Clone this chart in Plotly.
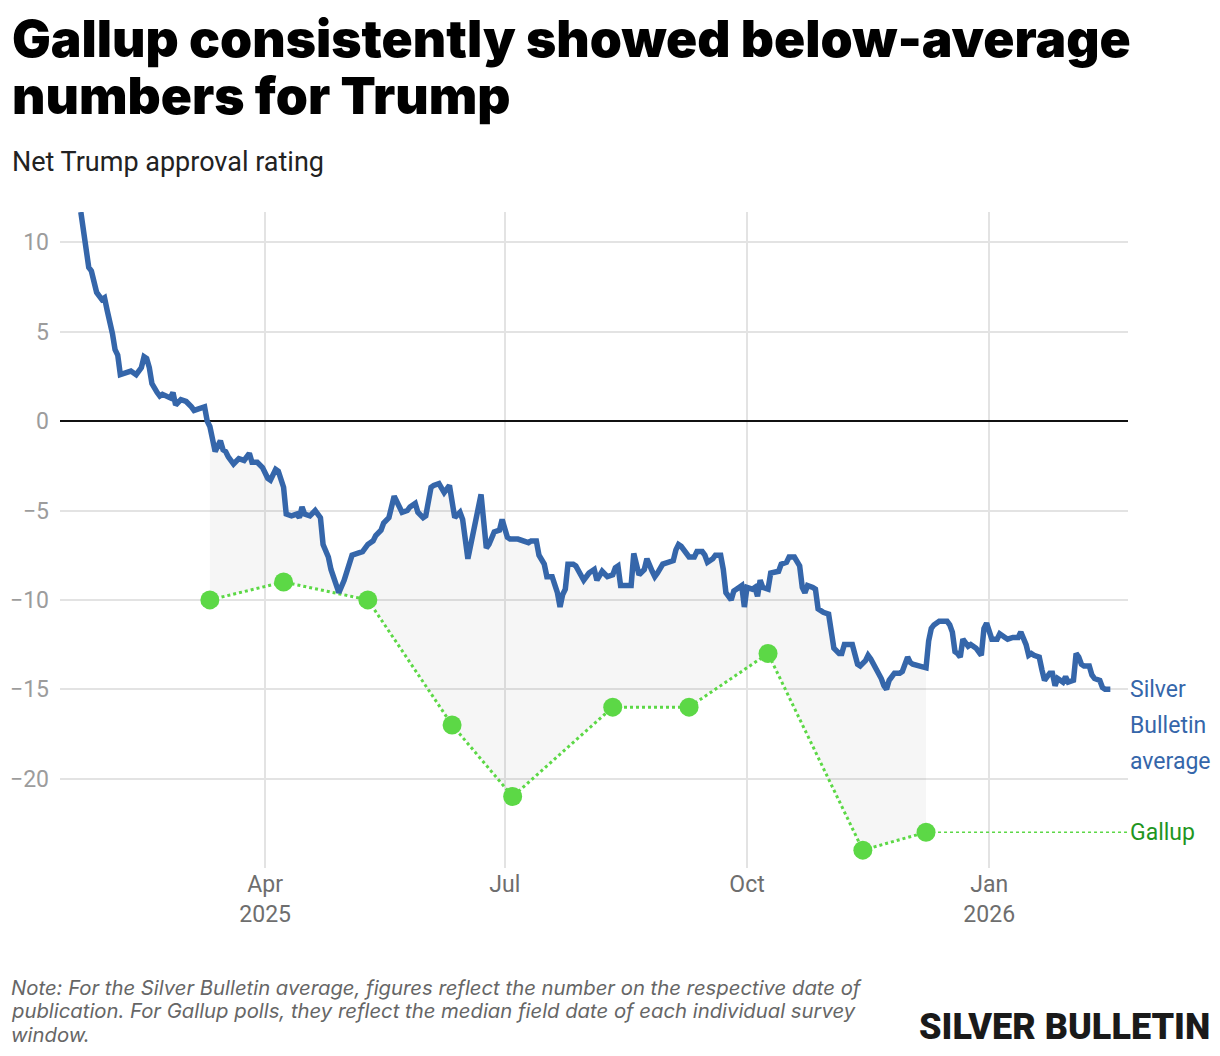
import plotly.graph_objects as go

# ---------------- data ----------------
avg_dates = [
    "2025-01-21", "2025-01-23", "2025-01-24", "2025-01-25", "2025-01-27", "2025-01-29", "2025-01-30", "2025-01-31",
    "2025-02-01", "2025-02-02", "2025-02-03", "2025-02-04", "2025-02-05", "2025-02-07", "2025-02-09", "2025-02-11",
    "2025-02-13", "2025-02-14", "2025-02-15", "2025-02-16", "2025-02-17", "2025-02-19", "2025-02-20", "2025-02-21",
    "2025-02-23", "2025-02-24", "2025-02-25", "2025-02-26", "2025-02-28", "2025-03-02", "2025-03-04", "2025-03-05",
    "2025-03-07", "2025-03-09", "2025-03-10", "2025-03-11", "2025-03-13", "2025-03-15", "2025-03-16", "2025-03-17",
    "2025-03-18", "2025-03-20", "2025-03-22", "2025-03-24", "2025-03-26", "2025-03-27", "2025-03-29", "2025-03-31",
    "2025-04-02", "2025-04-03", "2025-04-05", "2025-04-06", "2025-04-08", "2025-04-09", "2025-04-11", "2025-04-13",
    "2025-04-14", "2025-04-15", "2025-04-16", "2025-04-18", "2025-04-20", "2025-04-22", "2025-04-23", "2025-04-25",
    "2025-04-26", "2025-04-28", "2025-04-29", "2025-05-01", "2025-05-03", "2025-05-04", "2025-05-06", "2025-05-08",
    "2025-05-10", "2025-05-12", "2025-05-13", "2025-05-15", "2025-05-16", "2025-05-18", "2025-05-20", "2025-05-22",
    "2025-05-23", "2025-05-25", "2025-05-26", "2025-05-28", "2025-05-29", "2025-05-31", "2025-06-01", "2025-06-03",
    "2025-06-04", "2025-06-06", "2025-06-08", "2025-06-10", "2025-06-11", "2025-06-12", "2025-06-14", "2025-06-15",
    "2025-06-17", "2025-06-19", "2025-06-20", "2025-06-22", "2025-06-23", "2025-06-24", "2025-06-25", "2025-06-27",
    "2025-06-29", "2025-06-30", "2025-07-02", "2025-07-03", "2025-07-06", "2025-07-08", "2025-07-10", "2025-07-11",
    "2025-07-13", "2025-07-14", "2025-07-16", "2025-07-17", "2025-07-19", "2025-07-21", "2025-07-22", "2025-07-23",
    "2025-07-24", "2025-07-25", "2025-07-27", "2025-07-28", "2025-07-30", "2025-07-31", "2025-08-02", "2025-08-04",
    "2025-08-05", "2025-08-07", "2025-08-09", "2025-08-11", "2025-08-12", "2025-08-13", "2025-08-14", "2025-08-18",
    "2025-08-19", "2025-08-20", "2025-08-21", "2025-08-23", "2025-08-24", "2025-08-26", "2025-08-27", "2025-08-28",
    "2025-08-30", "2025-09-01", "2025-09-03", "2025-09-04", "2025-09-05", "2025-09-06", "2025-09-08", "2025-09-09",
    "2025-09-11", "2025-09-12", "2025-09-14", "2025-09-15", "2025-09-16", "2025-09-18", "2025-09-19", "2025-09-21",
    "2025-09-22", "2025-09-23", "2025-09-25", "2025-09-26", "2025-09-27", "2025-09-29", "2025-09-30", "2025-10-01",
    "2025-10-03", "2025-10-04", "2025-10-05", "2025-10-06", "2025-10-07", "2025-10-09", "2025-10-10", "2025-10-12",
    "2025-10-13", "2025-10-14", "2025-10-16", "2025-10-17", "2025-10-19", "2025-10-21", "2025-10-22", "2025-10-23",
    "2025-10-24", "2025-10-26", "2025-10-27", "2025-10-28", "2025-10-30", "2025-11-01", "2025-11-03", "2025-11-05",
    "2025-11-06", "2025-11-07", "2025-11-10", "2025-11-12", "2025-11-13", "2025-11-15", "2025-11-16", "2025-11-17",
    "2025-11-19", "2025-11-21", "2025-11-22", "2025-11-23", "2025-11-24", "2025-11-25", "2025-11-26", "2025-11-28",
    "2025-11-29", "2025-12-01", "2025-12-02", "2025-12-03", "2025-12-05", "2025-12-08", "2025-12-09", "2025-12-10",
    "2025-12-11", "2025-12-13", "2025-12-16", "2025-12-17", "2025-12-18", "2025-12-19", "2025-12-20", "2025-12-21",
    "2025-12-22", "2025-12-24", "2025-12-25", "2025-12-27", "2025-12-29", "2025-12-30", "2025-12-31", "2026-01-01",
    "2026-01-02", "2026-01-04", "2026-01-05", "2026-01-07", "2026-01-08", "2026-01-10", "2026-01-12", "2026-01-13",
    "2026-01-14", "2026-01-15", "2026-01-16", "2026-01-17", "2026-01-18", "2026-01-20", "2026-01-21", "2026-01-22",
    "2026-01-24", "2026-01-25", "2026-01-26", "2026-01-27", "2026-01-29", "2026-01-30", "2026-01-31", "2026-02-02",
    "2026-02-03", "2026-02-04", "2026-02-05", "2026-02-06", "2026-02-08", "2026-02-09", "2026-02-10", "2026-02-12",
    "2026-02-13", "2026-02-14", "2026-02-16",
]
avg_values = [
    11.7, 9.4, 8.6, 8.4, 7.2, 6.8, 6.9, 6.2,
    5.6, 4.9, 4.0, 3.7, 2.6, 2.7, 2.8, 2.6,
    3.0, 3.6, 3.5, 3.0, 2.1, 1.6, 1.4, 1.5,
    1.4, 1.3, 1.6, 0.9, 1.2, 1.1, 0.8, 0.6,
    0.7, 0.8, 0.0, -0.3, -1.7, -1.1, -1.6, -1.7,
    -2.0, -2.4, -2.1, -2.2, -1.8, -2.3, -2.3, -2.6,
    -3.2, -3.3, -2.7, -2.8, -3.7, -5.2, -5.3, -5.2,
    -5.4, -4.8, -5.2, -5.3, -5.0, -5.4, -6.9, -7.6,
    -8.3, -9.3, -9.6, -8.9, -7.8, -7.5, -7.4, -7.3,
    -6.9, -6.7, -6.4, -6.1, -5.7, -5.4, -4.2, -4.9,
    -5.1, -5.0, -4.8, -4.6, -5.1, -5.4, -5.3, -3.7,
    -3.6, -3.5, -4.0, -3.6, -4.4, -5.4, -5.1, -5.5,
    -7.7, -6.3, -5.5, -4.1, -5.6, -7.1, -6.9, -6.2,
    -6.1, -5.5, -6.5, -6.6, -6.6, -6.7, -6.8, -6.7,
    -6.7, -7.5, -8.0, -8.7, -8.7, -9.6, -10.4, -9.7,
    -9.4, -8.0, -8.0, -8.1, -8.6, -8.9, -8.5, -8.3,
    -8.9, -8.4, -8.7, -8.6, -8.2, -8.1, -9.2, -9.2,
    -7.4, -8.0, -8.6, -8.3, -7.7, -8.4, -8.7, -8.5,
    -8.0, -7.9, -7.8, -7.2, -6.9, -7.0, -7.4, -7.6,
    -7.6, -7.3, -7.3, -7.5, -7.9, -7.7, -7.5, -7.5,
    -8.3, -9.6, -10.0, -9.5, -9.4, -9.2, -10.4, -9.3,
    -9.4, -9.3, -9.8, -8.9, -9.3, -9.4, -8.5, -8.4,
    -8.4, -8.0, -7.9, -7.6, -7.6, -8.1, -9.3, -9.6,
    -9.2, -9.3, -9.4, -10.5, -10.7, -10.8, -12.7, -13.0,
    -13.0, -12.5, -12.5, -13.6, -13.7, -13.4, -13.1, -13.3,
    -13.8, -14.4, -14.8, -15.0, -14.5, -14.3, -14.1, -14.1,
    -14.0, -13.2, -13.5, -13.6, -13.7, -13.8, -12.3, -11.6,
    -11.4, -11.2, -11.2, -11.4, -11.8, -12.9, -13.0, -13.2,
    -12.2, -12.6, -12.5, -12.7, -13.1, -11.6, -11.3, -11.8,
    -12.2, -12.2, -11.9, -12.1, -12.2, -12.1, -12.1, -11.8,
    -12.1, -12.5, -13.1, -13.0, -13.1, -13.2, -13.9, -14.5,
    -14.1, -14.1, -14.8, -14.4, -14.6, -14.3, -14.6, -14.5,
    -13.0, -13.2, -13.6, -13.7, -13.7, -14.2, -14.4, -14.5,
    -14.9, -15.0, -15.0,
]

gallup_dates = ["2025-03-11", "2025-04-08", "2025-05-10", "2025-06-11", "2025-07-04",
                "2025-08-11", "2025-09-09", "2025-10-09", "2025-11-14", "2025-12-08"]
gallup_values = [-10, -9, -10, -17, -21, -16, -16, -13, -24, -23]

x_tick_vals = ["2025-04-01", "2025-07-01", "2025-10-01", "2026-01-01"]
x_tick_text = ["Apr<br>2025", "Jul", "Oct", "Jan<br>2026"]
y_tick_vals = [-20, -15, -10, -5, 0, 5, 10]
x_range = ["2025-01-13 02:00", "2026-02-22 17:00"]
y_range = [-25, 11.7]

# ---------------- styling ----------------
BLUE = "#3566aa"
GREEN = "#5cd846"
GREEN_TEXT = "#1f961f"
SANS = "Roboto, sans-serif"

W, H = 1220, 1056
ML, MR, MT, MB = 60, 92, 212, 188
PW, PH = W - ML - MR, H - MT - MB


def px(x):
    return (x - ML) / PW


def py(y):
    return (H - MB - y) / PH


fig = go.Figure()

# shaded gap between Silver Bulletin average and Gallup
fill_dates = [d for d in avg_dates if gallup_dates[0] <= d <= gallup_dates[-1]]
fill_vals = [v for d, v in zip(avg_dates, avg_values) if gallup_dates[0] <= d <= gallup_dates[-1]]
fig.add_trace(go.Scatter(x=gallup_dates, y=gallup_values, mode="lines",
                         line=dict(width=0, color="rgba(0,0,0,0)"), hoverinfo="skip"))
fig.add_trace(go.Scatter(x=fill_dates, y=fill_vals, mode="lines",
                         line=dict(width=0, color="rgba(0,0,0,0)"),
                         fill="tonexty", fillcolor="rgba(0,0,0,0.035)", hoverinfo="skip"))

# Gallup extension line to right edge
fig.add_shape(type="line", xref="x", yref="y", x0=gallup_dates[-1], x1=x_range[1],
              y0=gallup_values[-1], y1=gallup_values[-1],
              line=dict(color=GREEN, width=1.5, dash="dot"), layer="above")

# Gallup polls
fig.add_trace(go.Scatter(x=gallup_dates, y=gallup_values, mode="lines+markers",
                         line=dict(color=GREEN, width=3, dash="dot"),
                         marker=dict(color=GREEN, size=19, line=dict(width=0))))

# Silver Bulletin average
fig.add_trace(go.Scatter(x=avg_dates, y=avg_values, mode="lines",
                         line=dict(color=BLUE, width=5.5)))

note_lines = [
    "Note: For the Silver Bulletin average, figures reflect the number on the respective date of",
    "publication. For Gallup polls, they reflect the median field date of each individual survey",
    "window.",
]

annotations = [
    dict(text="Gallup consistently showed below-average", x=px(10), y=py(38), xanchor="left",
         yanchor="middle", font=dict(family="Inter", size=51.5, color="#000", weight=900)),
    dict(text="numbers for Trump", x=px(10), y=py(95), xanchor="left",
         yanchor="middle", font=dict(family="Inter", size=51.5, color="#000", weight=900)),
    dict(text="Net Trump approval rating", x=px(10), y=py(162), xanchor="left",
         yanchor="middle", font=dict(family=SANS, size=27, color="#222")),
    dict(text="SILVER BULLETIN", x=px(1212), y=py(1027), xanchor="right", yanchor="middle",
         font=dict(family=SANS, size=36, color="#1a1a1a", weight=900)),
]
for i, line in enumerate(note_lines):
    annotations.append(dict(text=line, x=px(9), y=py(987 + 23.5 * i), xanchor="left", yanchor="middle",
                            font=dict(family="Inter", size=20.3, color="#666", style="italic")))
for i, t in enumerate(["Silver", "Bulletin", "average"]):
    annotations.append(dict(text=t, xref="paper", yref="y", x=1, y=avg_values[-1], yshift=-36 * i,
                            xanchor="left", yanchor="middle",
                            font=dict(family=SANS, size=23, color=BLUE)))
annotations.append(dict(text="Gallup", xref="paper", yref="y", x=1, y=gallup_values[-1],
                        xanchor="left", yanchor="middle",
                        font=dict(family=SANS, size=23, color=GREEN_TEXT)))

for a in annotations:
    a.setdefault("xref", "paper")
    a.setdefault("yref", "paper")
    a["showarrow"] = False

fig.update_layout(
    width=W, height=H,
    margin=dict(l=ML, r=MR, t=MT, b=MB, autoexpand=False),
    paper_bgcolor="white", plot_bgcolor="white",
    showlegend=False,
    annotations=annotations,
    xaxis=dict(range=x_range, tickvals=x_tick_vals, ticktext=x_tick_text,
               showgrid=True, gridcolor="#e3e3e3", gridwidth=2, zeroline=False,
               showline=False, ticks="", tickfont=dict(family=SANS, size=23, color="#6e6e6e"),
               automargin=False, fixedrange=True),
    yaxis=dict(range=y_range, tickvals=y_tick_vals,
               showgrid=True, gridcolor="#e3e3e3", gridwidth=2,
               zeroline=True, zerolinecolor="#111", zerolinewidth=1.5,
               showline=False, ticks="", ticklabelstandoff=10,
               tickfont=dict(family=SANS, size=23, color="#9c9c9c"),
               automargin=False, fixedrange=True),
)

fig.write_html("out.html", config={"displayModeBar": False},
               post_script="document.body.style.margin='0';document.body.style.overflow='hidden';")
